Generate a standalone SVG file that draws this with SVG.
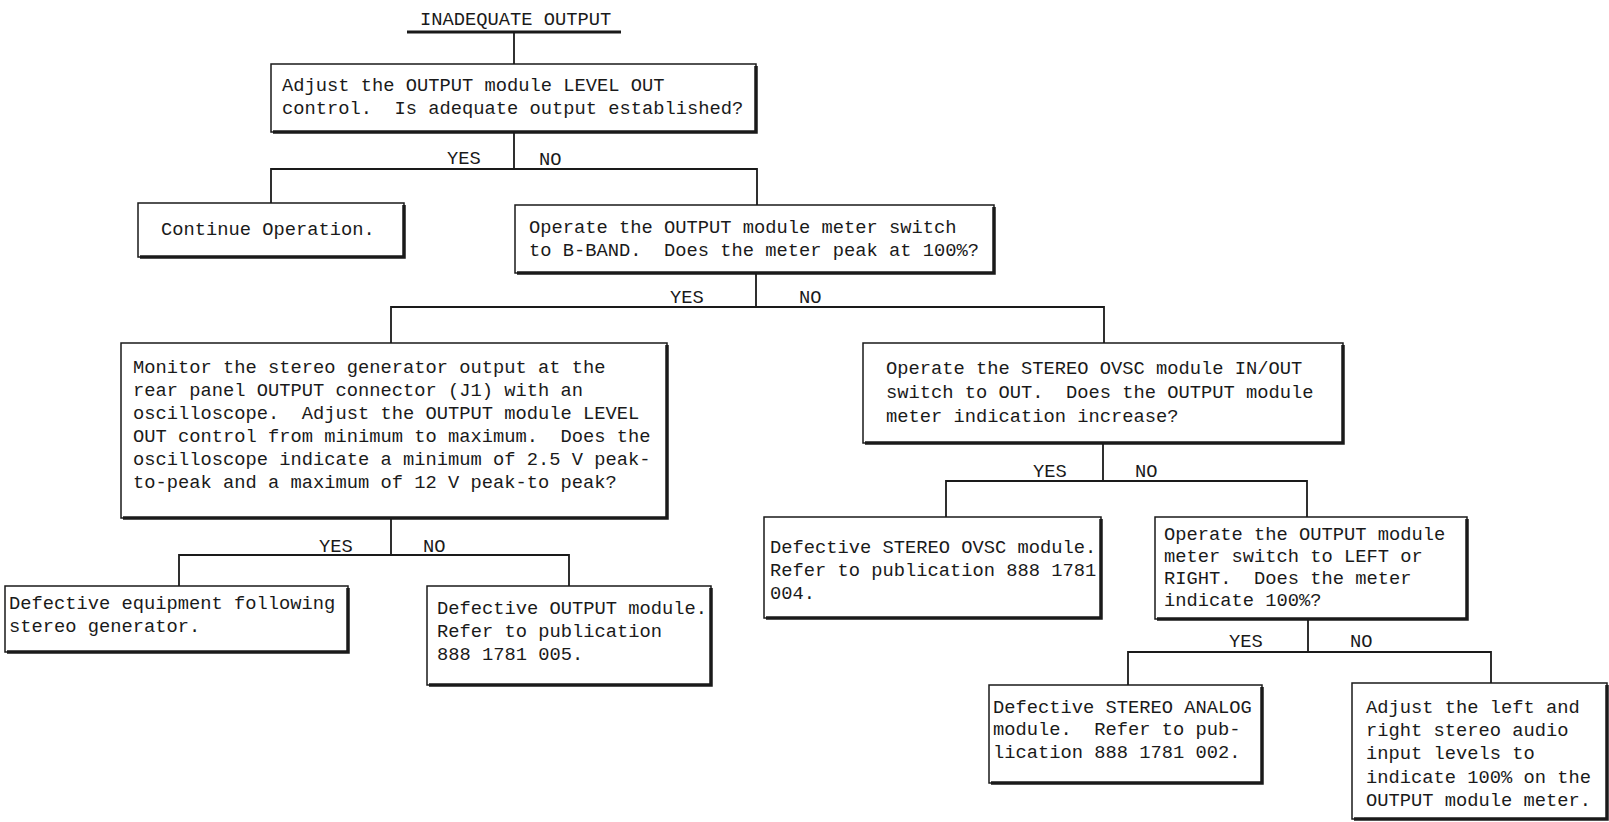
<svg xmlns="http://www.w3.org/2000/svg" width="1609" height="822" viewBox="0 0 1609 822">
<style>
  text { font-family: "Liberation Mono", "DejaVu Sans Mono", monospace; font-size: 18.75px; fill: #1a1a1a; white-space: pre; }
  .box { fill: #ffffff; stroke: #1a1a1a; stroke-width: 1.5; }
  .shadow { fill: none; stroke: #1a1a1a; stroke-width: 3.5; }
  .conn { fill: none; stroke: #1a1a1a; stroke-width: 1.8; }
</style>
<rect width="1609" height="822" fill="#ffffff"/>

<g id="connectors">
  <line x1="407" y1="32" x2="621" y2="32" stroke="#1a1a1a" stroke-width="3"/>
  <path class="conn" d="M514,32 V64"/>
  <path class="conn" d="M514,132 V169 M271,203 V169 H757 V205"/>
  <path class="conn" d="M756,273 V307 M391,343 V307 H1104 V343"/>
  <path class="conn" d="M391,518 V555 M179,586 V555 H569 V586"/>
  <path class="conn" d="M1103,443 V481 M946,517 V481 H1307 V517"/>
  <path class="conn" d="M1308,619 V652 M1128,685 V652 H1491 V683"/>
  <text x="447" y="164">YES</text>
  <text x="539" y="165">NO</text>
  <text x="670" y="303">YES</text>
  <text x="799" y="303">NO</text>
  <text x="319" y="552">YES</text>
  <text x="423" y="552">NO</text>
  <text x="1033" y="477">YES</text>
  <text x="1135" y="477">NO</text>
  <text x="1229" y="647">YES</text>
  <text x="1350" y="647">NO</text>
</g>

<g id="title">
  <text x="420" y="25">INADEQUATE OUTPUT</text>
</g>

<g id="box1">
  <rect class="box" x="271" y="64" width="485" height="68"/>
  <path class="shadow" d="M756,66 V132 H273"/>
  <text x="282" y="91">Adjust the OUTPUT module LEVEL OUT</text>
  <text x="282" y="114">control.  Is adequate output established?</text>
</g>

<g id="continue">
  <rect class="box" x="138" y="203" width="266" height="54"/>
  <path class="shadow" d="M404,205 V257 H140"/>
  <text x="161" y="235">Continue Operation.</text>
</g>

<g id="box2">
  <rect class="box" x="515" y="205" width="479" height="68"/>
  <path class="shadow" d="M994,207 V273 H517"/>
  <text x="529" y="233">Operate the OUTPUT module meter switch</text>
  <text x="529" y="256">to B-BAND.  Does the meter peak at 100%?</text>
</g>

<g id="box3">
  <rect class="box" x="121" y="343" width="546" height="175"/>
  <path class="shadow" d="M667,345 V518 H123"/>
  <text x="133" y="373">Monitor the stereo generator output at the</text>
  <text x="133" y="396">rear panel OUTPUT connector (J1) with an</text>
  <text x="133" y="419">oscilloscope.  Adjust the OUTPUT module LEVEL</text>
  <text x="133" y="442">OUT control from minimum to maximum.  Does the</text>
  <text x="133" y="465">oscilloscope indicate a minimum of 2.5 V peak-</text>
  <text x="133" y="488">to-peak and a maximum of 12 V peak-to peak?</text>
</g>

<g id="box4">
  <rect class="box" x="863" y="343" width="480" height="100"/>
  <path class="shadow" d="M1343,345 V443 H865"/>
  <text x="886" y="374">Operate the STEREO OVSC module IN/OUT</text>
  <text x="886" y="398">switch to OUT.  Does the OUTPUT module</text>
  <text x="886" y="422">meter indication increase?</text>
</g>

<g id="box5">
  <rect class="box" x="5" y="586" width="343" height="66"/>
  <path class="shadow" d="M348,588 V652 H7"/>
  <text x="9" y="609">Defective equipment following</text>
  <text x="9" y="632">stereo generator.</text>
</g>

<g id="box6">
  <rect class="box" x="427" y="586" width="284" height="99"/>
  <path class="shadow" d="M711,588 V685 H429"/>
  <text x="437" y="614">Defective OUTPUT module.</text>
  <text x="437" y="637">Refer to publication</text>
  <text x="437" y="660">888 1781 005.</text>
</g>

<g id="box7">
  <rect class="box" x="764" y="517" width="337" height="101"/>
  <path class="shadow" d="M1101,519 V618 H766"/>
  <text x="770" y="553">Defective STEREO OVSC module.</text>
  <text x="770" y="576">Refer to publication 888 1781</text>
  <text x="770" y="599">004.</text>
</g>

<g id="box8">
  <rect class="box" x="1155" y="517" width="312" height="102"/>
  <path class="shadow" d="M1467,519 V619 H1157"/>
  <text x="1164" y="540">Operate the OUTPUT module</text>
  <text x="1164" y="562">meter switch to LEFT or</text>
  <text x="1164" y="584">RIGHT.  Does the meter</text>
  <text x="1164" y="606">indicate 100%?</text>
</g>

<g id="box9">
  <rect class="box" x="989" y="685" width="273" height="98"/>
  <path class="shadow" d="M1262,687 V783 H991"/>
  <text x="993" y="713">Defective STEREO ANALOG</text>
  <text x="993" y="735">module.  Refer to pub-</text>
  <text x="993" y="758">lication 888 1781 002.</text>
</g>

<g id="box10">
  <rect class="box" x="1352" y="683" width="255" height="136"/>
  <path class="shadow" d="M1607,685 V819 H1354"/>
  <text x="1366" y="713">Adjust the left and</text>
  <text x="1366" y="736">right stereo audio</text>
  <text x="1366" y="759">input levels to</text>
  <text x="1366" y="783">indicate 100% on the</text>
  <text x="1366" y="806">OUTPUT module meter.</text>
</g>
</svg>
